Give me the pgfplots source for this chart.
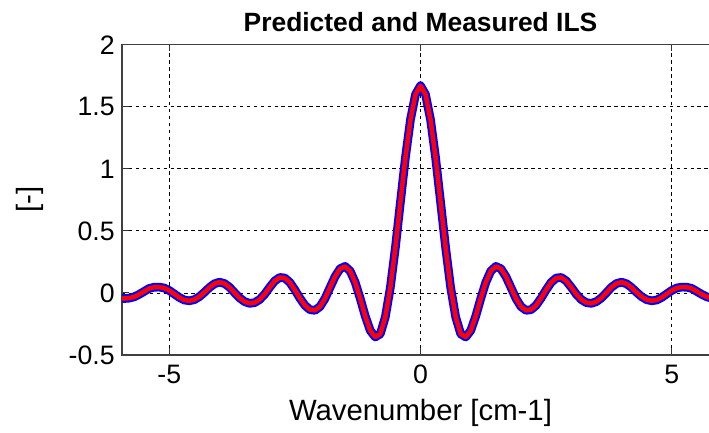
\documentclass[border=0pt]{standalone}
\usepackage{pgfplots}
\pgfplotsset{compat=1.18}
\usepackage{fontspec}
\setmainfont{Liberation Sans}
\pgfplotstableread{
x y
-6.0 -0.040
-5.9 -0.045
-5.8 -0.042
-5.7 -0.032
-5.6 -0.012
-5.5 0.012
-5.4 0.036
-5.3 0.046
-5.2 0.047
-5.1 0.040
-5.0 0.020
-4.9 -0.008
-4.8 -0.036
-4.7 -0.057
-4.6 -0.063
-4.5 -0.054
-4.4 -0.030
-4.3 0.005
-4.2 0.044
-4.1 0.074
-4.0 0.087
-3.9 0.076
-3.8 0.046
-3.7 0.002
-3.6 -0.040
-3.5 -0.070
-3.4 -0.084
-3.3 -0.078
-3.2 -0.053
-3.1 -0.010
-3.0 0.046
-2.9 0.097
-2.8 0.125
-2.7 0.120
-2.6 0.085
-2.5 0.025
-2.4 -0.042
-2.3 -0.100
-2.2 -0.135
-2.1 -0.140
-2.0 -0.110
-1.9 -0.045
-1.8 0.044
-1.7 0.132
-1.6 0.195
-1.5 0.214
-1.4 0.177
-1.3 0.086
-1.2 -0.044
-1.1 -0.186
-1.0 -0.303
-0.9 -0.355
-0.8 -0.330
-0.7 -0.194
-0.6 0.044
-0.5 0.365
-0.4 0.730
-0.3 1.091
-0.2 1.395
-0.1 1.599
0.0 1.670
0.1 1.599
0.2 1.395
0.3 1.091
0.4 0.730
0.5 0.365
0.6 0.044
0.7 -0.194
0.8 -0.330
0.9 -0.355
1.0 -0.303
1.1 -0.186
1.2 -0.044
1.3 0.086
1.4 0.177
1.5 0.214
1.6 0.195
1.7 0.132
1.8 0.044
1.9 -0.045
2.0 -0.110
2.1 -0.140
2.2 -0.135
2.3 -0.100
2.4 -0.042
2.5 0.025
2.6 0.085
2.7 0.120
2.8 0.125
2.9 0.097
3.0 0.046
3.1 -0.010
3.2 -0.053
3.3 -0.078
3.4 -0.084
3.5 -0.070
3.6 -0.040
3.7 0.002
3.8 0.046
3.9 0.076
4.0 0.087
4.1 0.074
4.2 0.044
4.3 0.005
4.4 -0.030
4.5 -0.054
4.6 -0.063
4.7 -0.057
4.8 -0.036
4.9 -0.008
5.0 0.020
5.1 0.040
5.2 0.047
5.3 0.046
5.4 0.036
5.5 0.012
5.6 -0.012
5.7 -0.032
5.8 -0.042
5.9 -0.045
6.0 -0.040
}\ils
\begin{document}
\begin{tikzpicture}[x=0.75pt,y=0.75pt]
\useasboundingbox (-122,-77) rectangle (587,355);
\begin{axis}[
  at={(0,0)}, anchor=south west,
  scale only axis,
  width=447.75pt, height=232.7pt,
  xmin=-5.94, xmax=5.94, ymin=-0.5, ymax=2,
  xtick={-5,0,5},
  ytick={-0.5,0,0.5,1,1.5,2},
  grid=major,
  major grid style={black, line width=0.6pt, dash pattern=on 2.6pt off 2.6pt},
  tick align=inside,
  major tick length=5pt,
  tick style={black!80, line width=0.7pt},
  axis line style={black!75, line width=0.9pt},
  /pgf/number format/assume math mode=true,
  ticklabel style={font=\fontsize{20}{24}\selectfont},
  xticklabel style={yshift=-4pt},
  yticklabel style={xshift=-2pt},
  title={\bfseries Predicted and Measured ILS},
  title style={font=\fontsize{19.8}{23}\selectfont, yshift=0.5pt},
  xlabel={Wavenumber [cm-1]},
  ylabel={[-]},
  label style={font=\fontsize{22}{26}\selectfont},
  xlabel style={yshift=-4.5pt},
  ylabel style={yshift=12pt},
  clip=true,
]
\addplot[blue, line width=6.5pt, line join=round, line cap=round] table[x=x,y=y]{\ils};
\addplot[red, line width=3.4pt, line join=round, line cap=round] table[x=x,y=y]{\ils};
\end{axis}
\end{tikzpicture}
\end{document}
